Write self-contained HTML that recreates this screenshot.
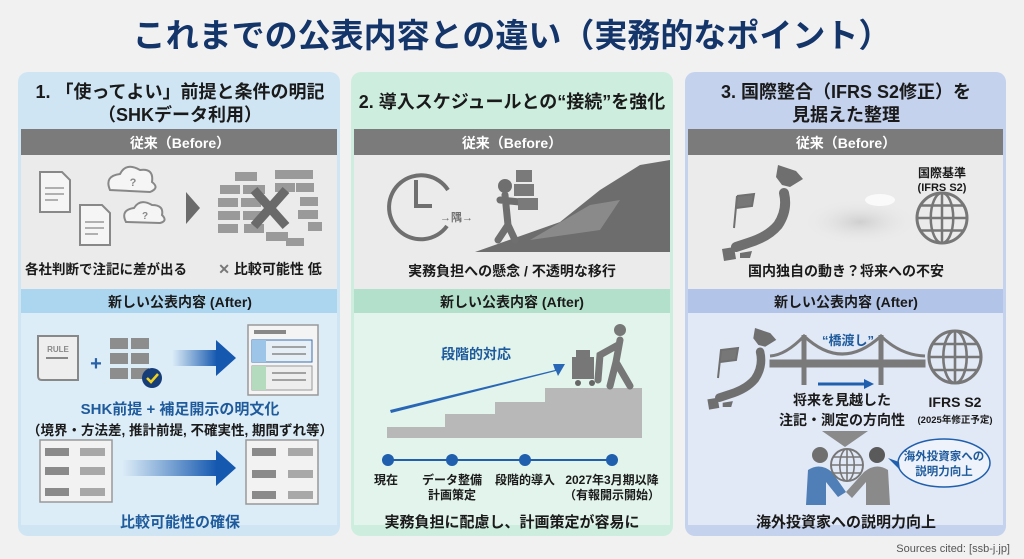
<!DOCTYPE html>
<html><head><meta charset="utf-8"><style>
html,body{margin:0;padding:0;background:#f1f1f1;}
svg{display:block;font-family:"Liberation Sans","Noto Sans CJK JP",sans-serif;font-weight:bold;}
</style></head><body>
<svg width="1024" height="559" viewBox="0 0 1024 559" xmlns="http://www.w3.org/2000/svg">
<defs>
<linearGradient id="ga" x1="0" x2="1"><stop offset="0" stop-color="#1f5fae" stop-opacity="0"/><stop offset="1" stop-color="#1558b0"/></linearGradient>
<radialGradient id="cl"><stop offset="0" stop-color="#cfcfcf"/><stop offset="1" stop-color="#ececec" stop-opacity="0"/></radialGradient>
<g id="globe"><circle r="1" fill="none" stroke="#777" stroke-width=".12"/><ellipse rx=".45" ry="1" fill="none" stroke="#777" stroke-width=".1"/><line x1="0" y1="-1" x2="0" y2="1" stroke="#777" stroke-width=".1"/><line x1="-1" y1="0" x2="1" y2="0" stroke="#777" stroke-width=".1"/><line x1="-.87" y1="-.5" x2=".87" y2="-.5" stroke="#777" stroke-width=".1"/><line x1="-.87" y1=".5" x2=".87" y2=".5" stroke="#777" stroke-width=".1"/></g>
<g id="japan" fill="#6f6f6f"><polygon points="60,0 78,6 85,14 72,22 64,20 58,12"/><path d="M66 28 Q70 45 60 60 Q50 72 30 78 L18 82" stroke="#6f6f6f" stroke-width="10" fill="none" stroke-linecap="round"/><polygon points="4,84 16,82 18,94 6,96"/><polygon points="22,88 34,86 32,93 22,93"/></g>
</defs>
<rect width="1024" height="559" fill="#f1f1f1"/>
<text x="512" y="47" text-anchor="middle" font-size="33" fill="#14356a">これまでの公表内容との違い（実務的なポイント）</text>

<!-- Panel 1 -->
<rect x="18" y="72" width="322" height="464" rx="10" fill="#cfe5f4"/>
<rect x="21" y="155" width="316" height="134" fill="#ebebeb"/>
<rect x="21" y="313" width="316" height="212" fill="#ddedf8"/>
<rect x="21" y="129" width="316" height="26" fill="#7b7b7b"/>
<rect x="21" y="289" width="316" height="24" fill="#acd6f0"/>
<text x="180" y="98" text-anchor="middle" font-size="18" fill="#1a1a1a">1. 「使ってよい」前提と条件の明記</text>
<text x="180" y="121" text-anchor="middle" font-size="18" fill="#1a1a1a">（SHKデータ利用）</text>
<text x="180" y="148" text-anchor="middle" font-size="14" fill="#fff">従来（Before）</text>
<text x="180" y="307" text-anchor="middle" font-size="14" fill="#1a1a1a">新しい公表内容 (After)</text>
<g fill="#f5f5f5" stroke="#888" stroke-width="2">
<path d="M40 172 H62 L70 180 V212 H40 Z"/><path d="M80 205 H102 L110 213 V245 H80 Z"/>
<path d="M110 190 q-6 -14 10 -16 q6 -12 20 -4 q14 -2 12 12 q8 6 -2 10 Z"/>
<path d="M126 222 q-6 -12 8 -14 q6 -10 18 -3 q12 0 10 10 q6 6 -2 8 Z"/>
</g>
<text x="133" y="186" font-size="11" fill="#888" text-anchor="middle">?</text>
<text x="145" y="219" font-size="10" fill="#888" text-anchor="middle">?</text>
<g stroke="#999" stroke-width="1.5"><line x1="45" y1="188" x2="64" y2="188"/><line x1="45" y1="194" x2="64" y2="194"/><line x1="45" y1="200" x2="58" y2="200"/><line x1="85" y1="222" x2="104" y2="222"/><line x1="85" y1="228" x2="104" y2="228"/><line x1="85" y1="234" x2="98" y2="234"/></g>
<polygon points="186,192 200,208 186,224" fill="#6b6b6b"/>
<g fill="#9a9a9a">
<rect x="235" y="172" width="22" height="9"/><rect x="275" y="170" width="20" height="9"/><rect x="295" y="170" width="18" height="9"/>
<rect x="220" y="185" width="20" height="9"/><rect x="243" y="185" width="22" height="9"/><rect x="275" y="183" width="20" height="9"/><rect x="296" y="183" width="18" height="9"/>
<rect x="218" y="198" width="20" height="9"/><rect x="241" y="198" width="20" height="9"/><rect x="300" y="197" width="18" height="9"/>
<rect x="218" y="211" width="22" height="9"/><rect x="243" y="211" width="20" height="9"/><rect x="298" y="210" width="20" height="9"/><rect x="308" y="222" width="14" height="9"/>
<rect x="218" y="224" width="20" height="9"/><rect x="244" y="224" width="20" height="9"/><rect x="266" y="232" width="22" height="9"/><rect x="286" y="238" width="18" height="8"/>
</g>
<path d="M254 190 L286 226 M286 190 L254 226" stroke="#6a6a6a" stroke-width="9"/>
<text x="106" y="274" text-anchor="middle" font-size="13.5" fill="#1a1a1a">各社判断で注記に差が出る</text>
<text x="270" y="274" text-anchor="middle" font-size="14" fill="#1a1a1a"><tspan fill="#777">✕</tspan> 比較可能性 低</text>
<path d="M38 336 H78 V380 H42 q-4 0 -4 -4 Z" fill="#eee" stroke="#888" stroke-width="2"/>
<text x="58" y="352" text-anchor="middle" font-size="8" fill="#888">RULE</text>
<line x1="46" y1="358" x2="68" y2="358" stroke="#888" stroke-width="2"/>
<text x="96" y="370" text-anchor="middle" font-size="20" fill="#2a62a8">+</text>
<g fill="#8d8d8d"><rect x="110" y="338" width="18" height="11"/><rect x="131" y="338" width="18" height="11"/><rect x="110" y="353" width="18" height="11"/><rect x="131" y="353" width="18" height="11"/><rect x="110" y="368" width="18" height="11"/><rect x="131" y="368" width="18" height="11"/></g>
<circle cx="152" cy="378" r="10" fill="#163d78"/><path d="M147 378 l4 4 l7 -8" stroke="#f4d21c" stroke-width="2.5" fill="none"/>
<rect x="172" y="350" width="45" height="16" fill="url(#ga)"/><polygon points="216,340 236,358 216,376" fill="#1558b0"/>
<rect x="248" y="325" width="70" height="70" fill="#f4f4f4" stroke="#999" stroke-width="1.5"/>
<rect x="254" y="330" width="32" height="4" fill="#888"/>
<rect x="252" y="340" width="60" height="22" fill="#e6eef6" stroke="#3a70b0"/><rect x="252" y="340" width="14" height="22" fill="#9cc5e8"/>
<rect x="252" y="366" width="60" height="24" fill="#eee" stroke="#999"/><rect x="252" y="366" width="14" height="24" fill="#b5dbbf"/>
<g stroke="#888" stroke-width="1.5"><line x1="272" y1="347" x2="306" y2="347"/><line x1="272" y1="354" x2="306" y2="354"/><line x1="272" y1="373" x2="306" y2="373"/><line x1="272" y1="380" x2="306" y2="380"/></g>
<text x="180" y="414" text-anchor="middle" font-size="15" fill="#1f5b9c">SHK前提 + 補足開示の明文化</text>
<text x="180" y="435" text-anchor="middle" font-size="13.5" fill="#1a1a1a">（境界・方法差, 推計前提, 不確実性, 期間ずれ等）</text>
<g fill="#f2f2f2" stroke="#999" stroke-width="1.5"><rect x="40" y="440" width="72" height="62"/><rect x="246" y="440" width="72" height="64"/></g>
<g fill="#8a8a8a"><rect x="45" y="448" width="24" height="8"/><rect x="45" y="467" width="24" height="8"/><rect x="45" y="488" width="24" height="8"/><rect x="252" y="448" width="24" height="8"/><rect x="252" y="470" width="24" height="8"/><rect x="252" y="491" width="24" height="8"/></g>
<g fill="#a8a8a8"><rect x="80" y="448" width="25" height="8"/><rect x="80" y="467" width="25" height="8"/><rect x="80" y="488" width="25" height="8"/><rect x="288" y="448" width="25" height="8"/><rect x="288" y="470" width="25" height="8"/><rect x="288" y="491" width="25" height="8"/></g>
<rect x="122" y="460" width="95" height="16" fill="url(#ga)"/><polygon points="216,450 236,468 216,486" fill="#1558b0"/>
<text x="180" y="527" text-anchor="middle" font-size="15" fill="#1f5b9c">比較可能性の確保</text>

<!-- Panel 2 -->
<rect x="351" y="72" width="322" height="464" rx="10" fill="#cdeedf"/>
<rect x="354" y="155" width="316" height="134" fill="#ebebeb"/>
<rect x="354" y="313" width="316" height="212" fill="#e2f4eb"/>
<rect x="354" y="129" width="316" height="26" fill="#7b7b7b"/>
<rect x="354" y="289" width="316" height="24" fill="#b3e0ca"/>
<text x="512" y="108" text-anchor="middle" font-size="18" fill="#1a1a1a">2. 導入スケジュールとの“接続”を強化</text>
<text x="512" y="148" text-anchor="middle" font-size="14" fill="#fff">従来（Before）</text>
<text x="512" y="307" text-anchor="middle" font-size="14" fill="#1a1a1a">新しい公表内容 (After)</text>
<path d="M447 226 A32 32 0 1 1 448 190" fill="none" stroke="#6f6f6f" stroke-width="4"/>
<path d="M416 180 V206 H432" fill="none" stroke="#6f6f6f" stroke-width="4"/>
<text x="440" y="221" font-size="11" fill="#6f6f6f">→隅→</text>
<polygon points="475,252 560,222 600,190 640,165 670,160 670,252" fill="#6d6d6d"/>
<polygon points="530,240 590,205 620,200 600,230" fill="#8a8a8a"/>
<circle cx="505" cy="186" r="7" fill="#6f6f6f"/>
<path d="M505 195 L508 225 L498 240 M508 225 L515 240 M500 200 L520 202" stroke="#6f6f6f" stroke-width="7" fill="none" stroke-linecap="round"/>
<g fill="#7a7a7a"><rect x="516" y="170" width="16" height="12"/><rect x="514" y="184" width="20" height="12"/><rect x="518" y="198" width="20" height="12"/></g>
<text x="512" y="276" text-anchor="middle" font-size="14" fill="#1a1a1a">実務負担への懸念 / 不透明な移行</text>
<polygon points="387,438 387,427 445,427 445,414 495,414 495,402 545,402 545,388 642,388 642,438" fill="#b8b8b8"/>
<polygon points="390,410 555,370 553,364 565,364 558,376 556,371 391,413" fill="#1558b0" opacity="0.9"/>
<text x="476" y="359" text-anchor="middle" font-size="14" fill="#1f5b9c">段階的対応</text>
<rect x="572" y="357" width="22" height="22" fill="#777"/><rect x="576" y="350" width="14" height="8" fill="#777"/>
<circle cx="578" cy="383" r="3" fill="#666"/><circle cx="592" cy="383" r="3" fill="#666"/>
<circle cx="620" cy="330" r="6" fill="#777"/>
<path d="M620 340 L616 362 L610 386 M616 362 L630 386 M618 345 L600 355 L598 380" stroke="#777" stroke-width="7" fill="none" stroke-linecap="round"/>
<line x1="388" y1="460" x2="612" y2="460" stroke="#1f5fae" stroke-width="2"/>
<g fill="#1f5fae"><circle cx="388" cy="460" r="6"/><circle cx="452" cy="460" r="6"/><circle cx="525" cy="460" r="6"/><circle cx="612" cy="460" r="6"/></g>
<g font-size="12" fill="#1a1a1a" text-anchor="middle"><text x="386" y="484">現在</text><text x="452" y="484">データ整備</text><text x="452" y="499">計画策定</text><text x="525" y="484">段階的導入</text><text x="612" y="484">2027年3月期以降</text><text x="612" y="499">（有報開示開始）</text></g>
<text x="512" y="527" text-anchor="middle" font-size="15" fill="#1a1a1a">実務負担に配慮し、計画策定が容易に</text>

<!-- Panel 3 -->
<rect x="685" y="72" width="321" height="464" rx="10" fill="#c4d2ee"/>
<rect x="688" y="155" width="315" height="134" fill="#ebebeb"/>
<rect x="688" y="313" width="315" height="212" fill="#e1e8f6"/>
<rect x="688" y="129" width="315" height="26" fill="#7b7b7b"/>
<rect x="688" y="289" width="315" height="24" fill="#b2c4e8"/>
<text x="846" y="98" text-anchor="middle" font-size="18" fill="#1a1a1a">3. 国際整合（IFRS S2修正）を</text>
<text x="846" y="121" text-anchor="middle" font-size="18" fill="#1a1a1a">見据えた整理</text>
<text x="846" y="148" text-anchor="middle" font-size="14" fill="#fff">従来（Before）</text>
<text x="846" y="307" text-anchor="middle" font-size="14" fill="#1a1a1a">新しい公表内容 (After)</text>
<use href="#japan" transform="translate(718,165)"/>
<path d="M734 228 L737 196 M737 196 L754 194 L752 206 L736 208" stroke="#6f6f6f" stroke-width="2" fill="#777"/>
<ellipse cx="860" cy="222" rx="60" ry="24" fill="url(#cl)"/>
<ellipse cx="880" cy="200" rx="15" ry="6" fill="#fafafa"/>
<text x="942" y="177" text-anchor="middle" font-size="12" fill="#1a1a1a">国際基準</text>
<text x="942" y="191" text-anchor="middle" font-size="11" fill="#1a1a1a">(IFRS S2)</text>
<use href="#globe" transform="translate(942,218) scale(25)"/>
<text x="846" y="276" text-anchor="middle" font-size="14" fill="#1a1a1a">国内独自の動き？将来への不安</text>
<use href="#japan" transform="translate(704,328) scale(0.85,0.85)"/>
<path d="M718 378 L721 350 L738 348 L736 360 L720 362" stroke="#6f6f6f" stroke-width="2" fill="#777"/>
<g stroke="#7a7a7a" fill="none"><rect x="770" y="360" width="155" height="7" fill="#7a7a7a"/><line x1="804" y1="335" x2="804" y2="385" stroke-width="5"/><line x1="881" y1="335" x2="881" y2="385" stroke-width="5"/><path d="M770 356 Q786 355 804 336 Q842 372 881 336 Q900 355 925 356" stroke-width="3"/></g>
<text x="848" y="345" text-anchor="middle" font-size="13" fill="#1f5b9c">“橋渡し”</text>
<line x1="818" y1="384" x2="866" y2="384" stroke="#1f5fae" stroke-width="3"/><polygon points="864,379 874,384 864,389" fill="#1f5fae"/>
<use href="#globe" transform="translate(955,357) scale(26)"/>
<text x="842" y="405" text-anchor="middle" font-size="14" fill="#1a1a1a">将来を見越した</text>
<text x="842" y="425" text-anchor="middle" font-size="14" fill="#1a1a1a">注記・測定の方向性</text>
<text x="955" y="407" text-anchor="middle" font-size="14" fill="#1a1a1a">IFRS S2</text>
<text x="955" y="423" text-anchor="middle" font-size="9.5" fill="#1a1a1a">(2025年修正予定)</text>
<polygon points="822,431 868,431 845,447" fill="#8a8a8a"/>
<circle cx="820" cy="455" r="8" fill="#6f6f6f"/><path d="M806 505 L808 470 Q820 462 832 472 L846 492 L838 497 L826 482 L826 505 Z" fill="#4f7fb6"/>
<circle cx="877" cy="455" r="8" fill="#5a5a5a"/><path d="M890 505 L888 470 Q876 462 864 472 L846 492 L852 498 L866 482 L866 505 Z" fill="#8a8a8a"/>
<use href="#globe" transform="translate(847,465) scale(16)"/>
<ellipse cx="944" cy="463" rx="46" ry="24" fill="#eef3fb" stroke="#1f5fae" stroke-width="1.5"/>
<polygon points="899,462 888,458 900,470" fill="#1f5fae"/>
<text x="944" y="460" text-anchor="middle" font-size="11.5" fill="#1f5b9c">海外投資家への</text>
<text x="944" y="475" text-anchor="middle" font-size="11.5" fill="#1f5b9c">説明力向上</text>
<text x="846" y="527" text-anchor="middle" font-size="15" fill="#1a1a1a">海外投資家への説明力向上</text>
<text x="1010" y="552" text-anchor="end" font-size="11" font-weight="normal" fill="#555">Sources cited: [ssb-j.jp]</text>
</svg>
</body></html>
